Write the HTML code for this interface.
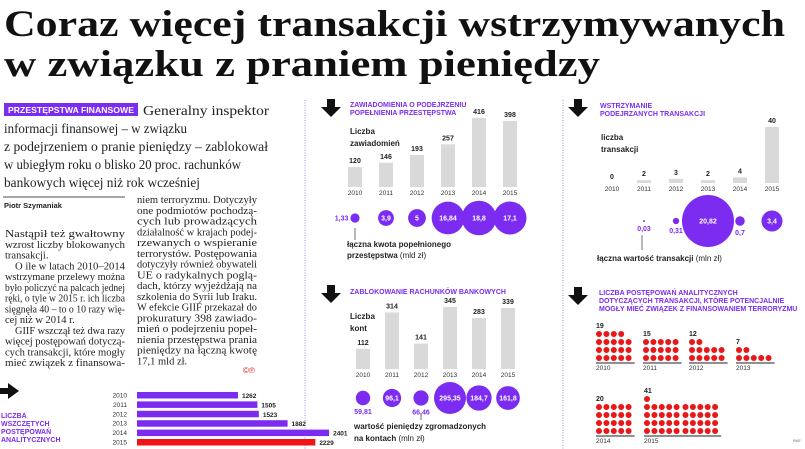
<!DOCTYPE html>
<html><head><meta charset="utf-8"><style>
html,body{margin:0;padding:0;background:#fff;width:805px;height:449px;overflow:hidden}
svg{display:block}
.t{font-family:"Liberation Serif",serif}
.s{font-family:"Liberation Sans",sans-serif}
</style></head><body>
<svg id="svg" width="805" height="449" viewBox="0 0 805 449" xmlns="http://www.w3.org/2000/svg">
<g class="t" font-weight="bold" fill="#111" font-size="37">
<text x="4" y="36" textLength="781" lengthAdjust="spacingAndGlyphs">Coraz więcej transakcji wstrzymywanych</text>
<text x="4" y="76" textLength="596" lengthAdjust="spacingAndGlyphs">w związku z praniem pieniędzy</text>
</g>
<g>
<rect x="4" y="103" width="134" height="13" fill="#7b2cf0"/>
<text x="8" y="113" class="s" font-size="8.5" font-weight="bold" fill="#fff" textLength="126" lengthAdjust="spacingAndGlyphs">PRZESTĘPSTWA FINANSOWE</text>
<g class="t" font-size="13.5" fill="#222">
<text x="143" y="115" textLength="126" lengthAdjust="spacingAndGlyphs">Generalny inspektor</text>
<text x="4" y="133" textLength="183" lengthAdjust="spacingAndGlyphs">informacji finansowej – w związku</text>
<text x="4" y="151" textLength="264" lengthAdjust="spacingAndGlyphs">z podejrzeniem o pranie pieniędzy – zablokował</text>
<text x="4" y="169" textLength="237" lengthAdjust="spacingAndGlyphs">w ubiegłym roku o blisko 20 proc. rachunków</text>
<text x="4" y="187" textLength="196" lengthAdjust="spacingAndGlyphs">bankowych więcej niż rok wcześniej</text>
</g></g>
<line x1="3" y1="197" x2="125" y2="197" stroke="#888" stroke-width="1.5"/>
<text x="4" y="208" class="s" font-size="7.5" font-weight="bold" fill="#222">Piotr Szymaniak</text>
<g id="body" class="t" font-size="10.5" fill="#222"></g>
<text x="243" y="373" class="s" font-size="8" fill="#e0201a">©℗</text>
<line x1="305" y1="100" x2="305" y2="449" stroke="#a58ae8" stroke-dasharray="1,1.5"/>
<line x1="563" y1="100" x2="563" y2="449" stroke="#a58ae8" stroke-dasharray="1,1.5"/>
<g id="charts"></g>
<text x="793" y="442" class="s" font-size="4" fill="#666">RAF</text>
</svg>
<script>
// ---- data ----
const years = ['2010','2011','2012','2013','2014','2015'];
const reportsCount = [120,146,193,257,416,398];
const reportsAmount = [1.33,3.9,5,16.84,18.8,17.1];
const reportsAmountLabels = ['1,33','3,9','5','16,84','18,8','17,1'];
const heldCount = [0,2,3,2,4,40];
const heldValue = [0,0.03,0.31,20.82,0.7,3.4];
const heldValueLabels = ['','0,03','0,31','20,82','0,7','3,4'];
const accountsCount = [112,314,141,345,283,339];
const accountsValue = [59.81,96.1,66.46,295.35,184.7,161.8];
const accountsValueLabels = ['59,81','96,1','66,46','295,35','184,7','161,8'];
const terrorCases = [19,15,12,7,20,41];
const analyticCases = [1262,1505,1523,1882,2401,2229];

const NS='http://www.w3.org/2000/svg';
const root=document.getElementById('charts');
function el(tag,attrs,parent,txt){const e=document.createElementNS(NS,tag);for(const k in attrs)e.setAttribute(k,attrs[k]);if(txt!==undefined)e.textContent=txt;(parent||root).appendChild(e);return e;}
const P='#7b2cf0', G='#d9d9d9', SANS='Liberation Sans, sans-serif';

// ---- article body ----
const col1=['Nastąpił też gwałtowny','wzrost liczby blokowanych','transakcji.','O ile w latach 2010–2014','wstrzymane przelewy można','było policzyć na palcach jednej','ręki, o tyle w 2015 r. ich liczba','sięgnęła 40 – to o 10 razy wię-','cej niż w 2014 r.','GIIF wszczął też dwa razy','więcej postępowań dotyczą-','cych transakcji, które mogły','mieć związek z finansowa-'];
const col1Short=[2,8], col1Ind=[3,9];
const col2=['niem terroryzmu. Dotyczyły','one podmiotów pochodzą-','cych lub prowadzących','działalność w krajach podej-','rzewanych o wspieranie','terrorystów. Postępowania','dotyczyły również obywateli','UE o radykalnych poglą-','dach, którzy wyjeżdżają na','szkolenia do Syrii lub Iraku.','W efekcie GIIF przekazał do','prokuratury 398 zawiado-','mień o podejrzeniu popeł-','nienia przestępstwa prania','pieniędzy na łączną kwotę','17,1 mld zł.'];
const body=document.getElementById('body');
col1.forEach((l,i)=>{const ind=col1Ind.includes(i)?10:0;const a={x:5+ind,y:237+i*10.75};if(!col1Short.includes(i)){a.textLength=120-ind;a.lengthAdjust='spacingAndGlyphs';}const t=el('text',a,body,l);

});
col2.forEach((l,i)=>{const a={x:137,y:203+i*10.75};if(i<15){a.textLength=120;a.lengthAdjust='spacingAndGlyphs';}const t=el('text',a,body,l);

});

function arrowDown(x,y){const p=el('path',{d:`M${x+5} ${y} h8 v8 h6 l-10 10 l-10 -10 h6 z`,fill:'#111'});

}
function title(x,y,lines,name){const g=el('g',{});


lines.forEach((l,i)=>el('text',{x:x,y:y+i*8,'font-family':SANS,'font-size':7,'font-weight':'bold',fill:P},g,l));}
function txt(x,y,s,o){return el('text',Object.assign({x:x,y:y,'font-family':SANS,'font-size':7,fill:'#222'},o||{}),root,s);}

// bar + bubble panel
function panel(cfg){
  const g=el('g',{});
  
  
  const bx=i=>cfg.x0+i*cfg.dx;
  const by=v=>cfg.base-v*cfg.scale;
  const rr=v=>cfg.rmax*Math.sqrt(v/cfg.vmax);
  years.forEach((yr,i)=>{
    const v=cfg.bars[i];
    const b=el('rect',{x:bx(i)-cfg.bw/2,y:by(v),width:cfg.bw,height:Math.max(v*cfg.scale,0),fill:G},g);
    
    
    el('text',{x:bx(i),y:by(v)-4,'text-anchor':'middle','font-family':SANS,'font-size':7,'font-weight':'bold',fill:'#222'},g,String(v));
    el('text',{x:bx(i),y:cfg.base+8,'text-anchor':'middle','font-family':SANS,'font-size':6.5,fill:'#333'},g,yr);
    const bv=cfg.bub[i]; if(bv>0){
      const r=Math.max(rr(bv),1);
      const c=el('circle',{cx:bx(i),cy:cfg.by,r:r,fill:P},g);
      
      
      const lab=cfg.labs[i];
      if(r>=7 && lab.length*3.3<2*r) el('text',{x:bx(i),y:cfg.by+2.5,'text-anchor':'middle','font-family':SANS,'font-size':7,'font-weight':'bold',fill:'#fff'},g,lab);
      else if(cfg.leftLab && i===0) el('text',{x:bx(i)-r-2,y:cfg.by+2.5,'text-anchor':'end','font-family':SANS,'font-size':7,'font-weight':'bold',fill:P},g,lab);
      else el('text',{x:bx(i),y:cfg.by+r+9,'text-anchor':'middle','font-family':SANS,'font-size':7,'font-weight':'bold',fill:P},g,lab);
    }
  });
}
// top-middle
arrowDown(322,99);
title(350,107,['ZAWIADOMIENIA O PODEJRZENIU','POPEŁNIENIA PRZESTĘPSTWA'],'reports-title');
txt(350,134,'Liczba',{'font-weight':'bold','font-size':8});txt(350,146,'zawiadomień',{'font-weight':'bold','font-size':8});
panel({name:'reports-chart',x0:355,dx:31,bw:14,base:187,scale:0.166,bars:reportsCount,bub:reportsAmount,labs:reportsAmountLabels,vmax:18.8,rmax:17.3,by:218,leftLab:true});
el('line',{x1:355,y1:228,x2:355,y2:240,stroke:'#333','stroke-width':0.7});
txt(347,247,'łączna kwota popełnionego',{'font-weight':'bold','font-size':8});
const t1=txt(347,258,'przestępstwa ',{'font-weight':'bold','font-size':8});el('tspan',{'font-weight':'normal'},t1,'(mld zł)');

// bottom-middle
arrowDown(322,285);
title(350,294,['ZABLOKOWANIE RACHUNKÓW BANKOWYCH'],'accounts-title');
txt(350,319,'Liczba',{'font-weight':'bold','font-size':8});txt(350,331,'kont',{'font-weight':'bold','font-size':8});
panel({name:'accounts-chart',x0:363,dx:29,bw:14,base:369,scale:0.18,bars:accountsCount,bub:accountsValue,labs:accountsValueLabels,vmax:295.35,rmax:16,by:398});
el('line',{x1:421,y1:413,x2:421,y2:420,stroke:'#333','stroke-width':0.7});
txt(354,429,'wartość pieniędzy zgromadzonych',{'font-weight':'bold','font-size':8});
const t2=txt(354,441,'na kontach ',{'font-weight':'bold','font-size':8});el('tspan',{'font-weight':'normal'},t2,'(mln zł)');

// top-right
arrowDown(569,99);
title(600,108,['WSTRZYMANIE','PODEJRZANYCH TRANSAKCJI'],'held-title');
txt(601,140,'liczba',{'font-weight':'bold','font-size':8});txt(601,152,'transakcji',{'font-weight':'bold','font-size':8});
panel({name:'held-chart',x0:612,dx:32,bw:14,base:183,scale:1.4,bars:heldCount,bub:heldValue,labs:heldValueLabels,vmax:20.82,rmax:26,by:221});
el('line',{x1:642,y1:235,x2:642,y2:250,stroke:'#333','stroke-width':0.7});
const t3=txt(597,261,'łączna wartość transakcji ',{'font-weight':'bold','font-size':8});el('tspan',{'font-weight':'normal'},t3,'(mln zł)');

// bottom-right dot groups
arrowDown(569,287);
title(599,295,['LICZBA POSTĘPOWAŃ ANALITYCZNYCH','DOTYCZĄCYCH TRANSAKCJI, KTÓRE POTENCJALNIE','MOGŁY MIEĆ ZWIĄZEK Z FINANSOWANIEM TERRORYZMU'],'terror-title');
const gx=[599,646,692,739,599,647], gy=[358,358,358,358,431,431], gc=[5,5,5,5,5,10];
years.forEach((yr,i)=>{
  const g=el('g',{});
  
  
  const n=terrorCases[i], cols=gc[i];
  for(let k=0;k<n;k++){const row=Math.floor(k/cols), col=k%cols;
    const cx=gx[i]+col*7.4+(col>=5?1.5:0), cy=gy[i]-row*8;
    el('circle',{cx:cx,cy:cy,r:3,fill:'#e81818'},g);}
  const rows=Math.ceil(n/cols);
  el('text',{x:gx[i]-3,y:gy[i]-(rows-1)*8-6,'font-family':SANS,'font-size':7,'font-weight':'bold',fill:'#222'},g,String(n));
  const w=(cols-1)*7.4+6+(cols>5?1.5:0);
  el('line',{x1:gx[i]-3,y1:gy[i]+5,x2:gx[i]-3+w+3,y2:gy[i]+5,stroke:'#222','stroke-width':1},g);
  el('text',{x:gx[i]-3,y:gy[i]+12,'font-family':SANS,'font-size':6.5,fill:'#333'},g,yr);
});

// bottom-left horizontal bars
const ra=el('path',{d:'M0 388 h8 v-5 l11 8 l-11 8 v-5 h-8 z',fill:'#111'});


title(1,418,['LICZBA','WSZCZĘTYCH','POSTĘPOWAŃ','ANALITYCZNYCH'],'analytic-title');
const hx=v=>137+v*0.08, hy=i=>392+i*9.4;
const hg=el('g',{});


years.forEach((yr,i)=>{
  el('text',{x:127,y:hy(i)+5.5,'text-anchor':'end','font-family':SANS,'font-size':6.5,fill:'#333'},hg,yr);
  const b=el('rect',{x:137,y:hy(i),width:hx(analyticCases[i])-137,height:6.5,fill:i===5?'#f01414':P},hg);
  
  
  el('text',{x:hx(analyticCases[i])+4,y:hy(i)+6,'font-family':SANS,'font-size':6.5,'font-weight':'bold',fill:'#222'},hg,String(analyticCases[i]));
});
</script>
</body></html>
